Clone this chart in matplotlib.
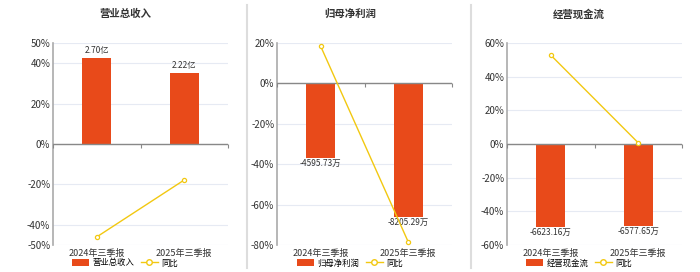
import matplotlib
matplotlib.use("Agg")
import matplotlib.pyplot as plt
from matplotlib.patches import Patch
from matplotlib.lines import Line2D

plt.rcParams['font.family'] = ['Noto Sans CJK SC', 'DejaVu Sans']

# data
periods = ['2024年三季报', '2025年三季报']
titles = ['营业总收入', '归母净利润', '经营现金流']

revenue = [2.70, 2.22]            # 亿
revenue_labels = ['2.70亿', '2.22亿']
revenue_yoy = [-46.0, -17.8]      # %

profit = [-4595.73, -8205.29]     # 万
profit_labels = ['-4595.73万', '-8205.29万']
profit_yoy = [18.3, -78.5]

cashflow = [-6623.16, -6577.65]   # 万
cashflow_labels = ['-6623.16万', '-6577.65万']
cashflow_yoy = [52.8, 0.7]

BAR = '#e84a1a'
LINE = '#f2c811'
GRID = '#e6eaf3'
TXT = '#333333'

W, H = 700, 272
fig = plt.figure(figsize=(W / 100, H / 100), dpi=100)

panels = [
    dict(vals=revenue, labels=revenue_labels, yoy=revenue_yoy, title=titles[0],
         left=53, pct=(-50, 50), ticks=[-50, -40, -20, 0, 20, 40, 50],
         blim=(-3.17, 3.17), center=125),
    dict(vals=profit, labels=profit_labels, yoy=profit_yoy, title=titles[1],
         left=277, pct=(-80, 20), ticks=[-80, -60, -40, -20, 0, 20],
         blim=(-9936, 2484), center=350),
    dict(vals=cashflow, labels=cashflow_labels, yoy=cashflow_yoy, title=titles[2],
         left=507, pct=(-60, 60), ticks=[-60, -40, -20, 0, 20, 40, 60],
         blim=(-8060, 8060), center=579),
]

x = list(range(len(periods)))

for p in panels:
    rect = [p['left'] / W, 27 / H, 175 / W, 202 / H]
    ax = fig.add_axes(rect)
    ax.set_xlim(-0.5, 1.5)
    ax.set_ylim(*p['pct'])
    ax.set_yticks(p['ticks'])
    ax.set_yticklabels([f'{t}%' for t in p['ticks']])
    ax.set_xticks(x)
    ax.set_xticklabels(periods)
    ax.tick_params(axis='y', length=0, pad=2, labelsize=7, labelcolor=TXT)
    ax.tick_params(axis='x', length=0, pad=3, labelsize=6.5, labelcolor=TXT)
    ax.yaxis.grid(True, color=GRID, lw=0.8)
    ax.set_axisbelow(True)
    for s in ['top', 'right', 'bottom']:
        ax.spines[s].set_visible(False)
    ax.spines['left'].set_color('#aaaaaa')
    ax.spines['left'].set_linewidth(1.2)

    # bars on a hidden axis
    axb = fig.add_axes(rect, sharex=ax)
    axb.set_ylim(*p['blim'])
    axb.axis('off')
    axb.bar(x, p['vals'], width=0.33, color=BAR, zorder=2)
    for xi, v, lab in zip(x, p['vals'], p['labels']):
        if v >= 0:
            axb.annotate(lab, (xi, v), xytext=(0, 2), textcoords='offset points',
                         ha='center', va='bottom', fontsize=6, color=TXT)
        else:
            axb.annotate(lab, (xi, v), xytext=(0, -0.5), textcoords='offset points',
                         ha='center', va='top', fontsize=6, color=TXT)

    # yoy line on top, with the zero axis line and its category ticks
    axl = fig.add_axes(rect, sharex=ax)
    axl.set_ylim(*p['pct'])
    axl.axis('off')
    axl.axhline(0, color='#888888', lw=1, zorder=1)
    axl.plot([-0.5, 0.5, 1.5], [0, 0, 0], ls='none', marker=3, ms=3,
             mew=0.8, color='#888888', zorder=1, clip_on=False)
    axl.plot(x, p['yoy'], color=LINE, lw=1, marker='o', ms=3,
             mfc='white', mec=LINE, mew=0.9, zorder=3)

    fig.text(p['center'] / W, 1 - 14 / H, p['title'], ha='center', va='center',
             fontsize=7.5, fontweight='bold', color=TXT)

    handles = [Patch(facecolor=BAR, edgecolor='none'),
               Line2D([0], [0], color=LINE, lw=1, marker='o', ms=4,
                      mfc='white', mec=LINE)]
    fig.legend(handles, [p['title'], '同比'], loc='center',
               bbox_to_anchor=(p['center'] / W, 9 / H), ncol=2, frameon=False,
               fontsize=6, handlelength=2.0, handleheight=0.9,
               handletextpad=0.4, columnspacing=0.8, borderpad=0)

# panel separators
for xs in [247, 471]:
    fig.add_artist(Line2D([xs / W, xs / W], [4 / H, 1 - 5 / H],
                          color='#dddddd', lw=1.5))

fig.savefig('out.png', dpi=100, facecolor='white')
